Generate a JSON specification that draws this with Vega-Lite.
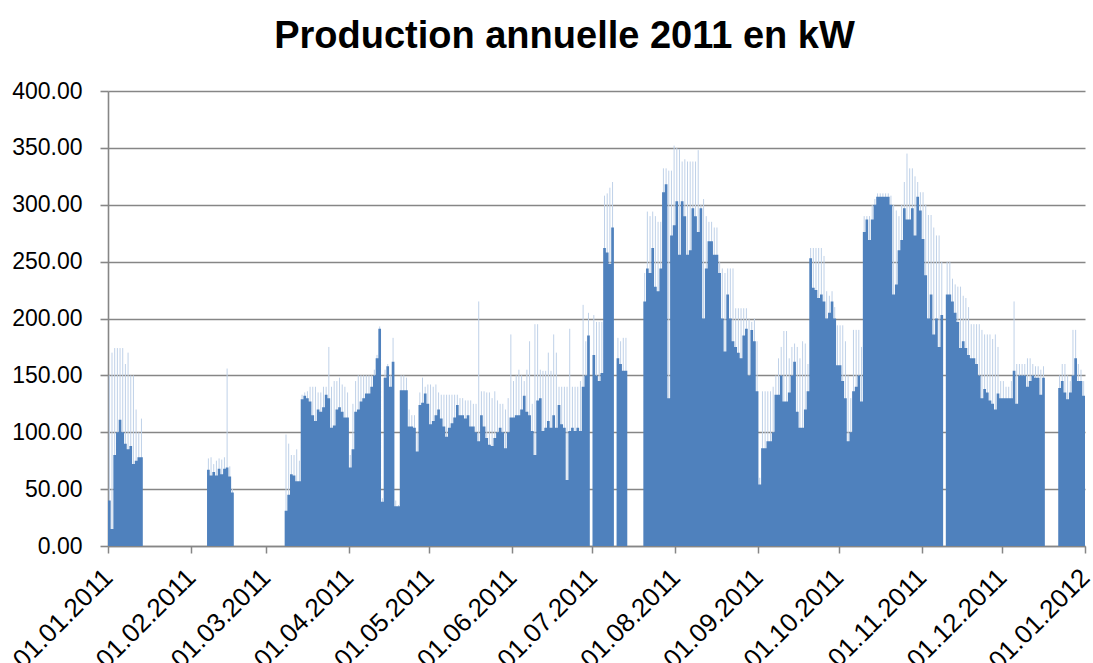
{
"$schema": "https://vega.github.io/schema/vega-lite/v6.json",
"width": 977, "height": 455,
"autosize": {"type": "none"},
"padding": {"left": 108, "top": 91, "right": 8, "bottom": 117},
"background": "white",
"config": {"view": {"stroke": null}, "font": "Liberation Sans"},
"title": {"text": "Production annuelle 2011 en kW", "fontSize": 38, "fontWeight": "bold", "font": "Liberation Sans", "color": "black", "anchor": "middle", "frame": "group", "dx": -32, "offset": 24},
"data": {"values": [
{"d":"2011-01-01","v":40,"p":150},{"d":"2011-01-02","v":15,"p":170},{"d":"2011-01-03","v":80,"p":174},{"d":"2011-01-04","v":100,"p":174},{"d":"2011-01-05","v":111,"p":174},{"d":"2011-01-06","v":100,"p":174},{"d":"2011-01-07","v":90,"p":160},{"d":"2011-01-08","v":85,"p":170},{"d":"2011-01-09","v":88,"p":150},{"d":"2011-01-10","v":72,"p":150},{"d":"2011-01-11","v":75,"p":120},{"d":"2011-01-12","v":78,"p":100},{"d":"2011-01-13","v":78,"p":112},{"d":"2011-01-14","v":0},
{"d":"2011-02-07","v":67,"p":77},{"d":"2011-02-08","v":62,"p":78},{"d":"2011-02-09","v":65,"p":72},{"d":"2011-02-10","v":62,"p":75},{"d":"2011-02-11","v":68,"p":77},{"d":"2011-02-12","v":63,"p":76},{"d":"2011-02-13","v":68,"p":78},{"d":"2011-02-14","v":69,"p":156},{"d":"2011-02-15","v":61,"p":70},{"d":"2011-02-16","v":47,"p":50},{"d":"2011-02-17","v":0},
{"d":"2011-03-08","v":31,"p":98},{"d":"2011-03-09","v":45,"p":90},{"d":"2011-03-10","v":63,"p":80},{"d":"2011-03-11","v":62,"p":80},{"d":"2011-03-12","v":57,"p":85},{"d":"2011-03-13","v":57,"p":75},{"d":"2011-03-14","v":129,"p":133},{"d":"2011-03-15","v":132,"p":135},{"d":"2011-03-16","v":130,"p":136},{"d":"2011-03-17","v":127,"p":140},{"d":"2011-03-18","v":115,"p":140},{"d":"2011-03-19","v":110,"p":140},{"d":"2011-03-20","v":120,"p":135},{"d":"2011-03-21","v":118,"p":135},{"d":"2011-03-22","v":122,"p":140},{"d":"2011-03-23","v":133,"p":140},{"d":"2011-03-24","v":130,"p":175},{"d":"2011-03-25","v":104,"p":140},{"d":"2011-03-26","v":106,"p":145},{"d":"2011-03-27","v":120,"p":145},{"d":"2011-03-28","v":122,"p":148},{"d":"2011-03-29","v":118,"p":142},{"d":"2011-03-30","v":113,"p":140},{"d":"2011-03-31","v":113,"p":135},
{"d":"2011-04-01","v":69,"p":80},{"d":"2011-04-02","v":85,"p":125},{"d":"2011-04-03","v":118,"p":145},{"d":"2011-04-04","v":120,"p":150},{"d":"2011-04-05","v":127,"p":150},{"d":"2011-04-06","v":130,"p":150},{"d":"2011-04-07","v":134,"p":150},{"d":"2011-04-08","v":134,"p":150},{"d":"2011-04-09","v":140,"p":150},{"d":"2011-04-10","v":150,"p":155},{"d":"2011-04-11","v":165,"p":168},{"d":"2011-04-12","v":191,"p":193},{"d":"2011-04-13","v":39,"p":42},{"d":"2011-04-14","v":148,"p":155},{"d":"2011-04-15","v":158,"p":160},{"d":"2011-04-16","v":140,"p":150},{"d":"2011-04-17","v":162,"p":183},{"d":"2011-04-18","v":35,"p":40},{"d":"2011-04-19","v":35,"p":36},{"d":"2011-04-20","v":137,"p":150},{"d":"2011-04-21","v":137,"p":150},{"d":"2011-04-22","v":137,"p":148},{"d":"2011-04-23","v":105,"p":120},{"d":"2011-04-24","v":105,"p":115},{"d":"2011-04-25","v":104,"p":115},{"d":"2011-04-26","v":83,"p":100},{"d":"2011-04-27","v":124,"p":135},{"d":"2011-04-28","v":126,"p":148},{"d":"2011-04-29","v":134,"p":140},{"d":"2011-04-30","v":125,"p":142},
{"d":"2011-05-01","v":107,"p":142},{"d":"2011-05-02","v":110,"p":140},{"d":"2011-05-03","v":115,"p":142},{"d":"2011-05-04","v":120,"p":135},{"d":"2011-05-05","v":112,"p":133},{"d":"2011-05-06","v":105,"p":133},{"d":"2011-05-07","v":96,"p":133},{"d":"2011-05-08","v":104,"p":133},{"d":"2011-05-09","v":108,"p":133},{"d":"2011-05-10","v":113,"p":133},{"d":"2011-05-11","v":124,"p":133},{"d":"2011-05-12","v":115,"p":130},{"d":"2011-05-13","v":115,"p":130},{"d":"2011-05-14","v":112,"p":128},{"d":"2011-05-15","v":115,"p":128},{"d":"2011-05-16","v":105,"p":128},{"d":"2011-05-17","v":105,"p":125},{"d":"2011-05-18","v":100,"p":125},{"d":"2011-05-19","v":92,"p":215},{"d":"2011-05-20","v":115,"p":136},{"d":"2011-05-21","v":105,"p":136},{"d":"2011-05-22","v":95,"p":135},{"d":"2011-05-23","v":89,"p":135},{"d":"2011-05-24","v":88,"p":130},{"d":"2011-05-25","v":95,"p":136},{"d":"2011-05-26","v":100,"p":128},{"d":"2011-05-27","v":104,"p":125},{"d":"2011-05-28","v":100,"p":125},{"d":"2011-05-29","v":86,"p":120},{"d":"2011-05-30","v":100,"p":130},{"d":"2011-05-31","v":113,"p":186},
{"d":"2011-06-01","v":113,"p":145},{"d":"2011-06-02","v":115,"p":150},{"d":"2011-06-03","v":115,"p":155},{"d":"2011-06-04","v":120,"p":150},{"d":"2011-06-05","v":132,"p":145},{"d":"2011-06-06","v":118,"p":155},{"d":"2011-06-07","v":115,"p":180},{"d":"2011-06-08","v":101,"p":125},{"d":"2011-06-09","v":80,"p":195},{"d":"2011-06-10","v":128,"p":195},{"d":"2011-06-11","v":130,"p":155},{"d":"2011-06-12","v":101,"p":154},{"d":"2011-06-13","v":104,"p":154},{"d":"2011-06-14","v":110,"p":170},{"d":"2011-06-15","v":104,"p":154},{"d":"2011-06-16","v":115,"p":186},{"d":"2011-06-17","v":104,"p":170},{"d":"2011-06-18","v":124,"p":140},{"d":"2011-06-19","v":107,"p":140},{"d":"2011-06-20","v":104,"p":140},{"d":"2011-06-21","v":58,"p":140},{"d":"2011-06-22","v":101,"p":191},{"d":"2011-06-23","v":104,"p":140},{"d":"2011-06-24","v":101,"p":140},{"d":"2011-06-25","v":104,"p":140},{"d":"2011-06-26","v":101,"p":145},{"d":"2011-06-27","v":140,"p":212},{"d":"2011-06-28","v":150,"p":180},{"d":"2011-06-29","v":185,"p":205},{"d":"2011-06-30","v":0},
{"d":"2011-07-01","v":168,"p":203},{"d":"2011-07-02","v":150,"p":197},{"d":"2011-07-03","v":145,"p":197},{"d":"2011-07-04","v":152,"p":197},{"d":"2011-07-05","v":262,"p":308},{"d":"2011-07-06","v":258,"p":310},{"d":"2011-07-07","v":248,"p":315},{"d":"2011-07-08","v":280,"p":320},{"d":"2011-07-09","v":0},{"d":"2011-07-10","v":165,"p":183},{"d":"2011-07-11","v":160,"p":180},{"d":"2011-07-12","v":154,"p":183},{"d":"2011-07-13","v":154,"p":183},{"d":"2011-07-14","v":0},{"d":"2011-07-20","v":215,"p":240},{"d":"2011-07-21","v":244,"p":294},{"d":"2011-07-22","v":240,"p":290},{"d":"2011-07-23","v":262,"p":294},{"d":"2011-07-24","v":228,"p":290},{"d":"2011-07-25","v":224,"p":285},{"d":"2011-07-26","v":244,"p":285},{"d":"2011-07-27","v":311,"p":332},{"d":"2011-07-28","v":318,"p":332},{"d":"2011-07-29","v":130,"p":330},{"d":"2011-07-30","v":273,"p":330},{"d":"2011-07-31","v":282,"p":352},
{"d":"2011-08-01","v":303,"p":350},{"d":"2011-08-02","v":256,"p":349},{"d":"2011-08-03","v":303,"p":338},{"d":"2011-08-04","v":290,"p":340},{"d":"2011-08-05","v":256,"p":338},{"d":"2011-08-06","v":260,"p":338},{"d":"2011-08-07","v":297,"p":338},{"d":"2011-08-08","v":290,"p":338},{"d":"2011-08-09","v":276,"p":348},{"d":"2011-08-10","v":297,"p":300},{"d":"2011-08-11","v":200,"p":305},{"d":"2011-08-12","v":244,"p":290},{"d":"2011-08-13","v":268,"p":285},{"d":"2011-08-14","v":268,"p":285},{"d":"2011-08-15","v":256,"p":280},{"d":"2011-08-16","v":256,"p":280},{"d":"2011-08-17","v":240,"p":250},{"d":"2011-08-18","v":200,"p":244},{"d":"2011-08-19","v":171,"p":240},{"d":"2011-08-20","v":221,"p":244},{"d":"2011-08-21","v":200,"p":244},{"d":"2011-08-22","v":180,"p":244},{"d":"2011-08-23","v":175,"p":209},{"d":"2011-08-24","v":170,"p":209},{"d":"2011-08-25","v":165,"p":209},{"d":"2011-08-26","v":185,"p":209},{"d":"2011-08-27","v":191,"p":209},{"d":"2011-08-28","v":150,"p":200},{"d":"2011-08-29","v":190,"p":197},{"d":"2011-08-30","v":180,"p":200},{"d":"2011-08-31","v":136,"p":180},
{"d":"2011-09-01","v":54,"p":60},{"d":"2011-09-02","v":86,"p":136},{"d":"2011-09-03","v":86,"p":136},{"d":"2011-09-04","v":92,"p":136},{"d":"2011-09-05","v":92,"p":136},{"d":"2011-09-06","v":100,"p":140},{"d":"2011-09-07","v":133,"p":150},{"d":"2011-09-08","v":133,"p":165},{"d":"2011-09-09","v":150,"p":175},{"d":"2011-09-10","v":127,"p":189},{"d":"2011-09-11","v":127,"p":189},{"d":"2011-09-12","v":135,"p":165},{"d":"2011-09-13","v":150,"p":175},{"d":"2011-09-14","v":162,"p":178},{"d":"2011-09-15","v":118,"p":175},{"d":"2011-09-16","v":104,"p":165},{"d":"2011-09-17","v":104,"p":180},{"d":"2011-09-18","v":120,"p":178},{"d":"2011-09-19","v":136,"p":160},{"d":"2011-09-20","v":253,"p":262},{"d":"2011-09-21","v":227,"p":262},{"d":"2011-09-22","v":225,"p":262},{"d":"2011-09-23","v":218,"p":262},{"d":"2011-09-24","v":221,"p":262},{"d":"2011-09-25","v":215,"p":255},{"d":"2011-09-26","v":200,"p":224},{"d":"2011-09-27","v":205,"p":220},{"d":"2011-09-28","v":215,"p":224},{"d":"2011-09-29","v":200,"p":210},{"d":"2011-09-30","v":159,"p":194},
{"d":"2011-10-01","v":159,"p":194},{"d":"2011-10-02","v":145,"p":194},{"d":"2011-10-03","v":130,"p":180},{"d":"2011-10-04","v":92,"p":150},{"d":"2011-10-05","v":100,"p":130},{"d":"2011-10-06","v":136,"p":190},{"d":"2011-10-07","v":140,"p":190},{"d":"2011-10-08","v":150,"p":190},{"d":"2011-10-09","v":127,"p":175},{"d":"2011-10-10","v":276,"p":290},{"d":"2011-10-11","v":287,"p":290},{"d":"2011-10-12","v":269,"p":290},{"d":"2011-10-13","v":287,"p":300},{"d":"2011-10-14","v":300,"p":305},{"d":"2011-10-15","v":307,"p":310},{"d":"2011-10-16","v":307,"p":310},{"d":"2011-10-17","v":307,"p":310},{"d":"2011-10-18","v":307,"p":310},{"d":"2011-10-19","v":307,"p":310},{"d":"2011-10-20","v":300,"p":308},{"d":"2011-10-21","v":221,"p":300},{"d":"2011-10-22","v":230,"p":295},{"d":"2011-10-23","v":260,"p":290},{"d":"2011-10-24","v":269,"p":300},{"d":"2011-10-25","v":297,"p":320},{"d":"2011-10-26","v":287,"p":345},{"d":"2011-10-27","v":287,"p":332},{"d":"2011-10-28","v":297,"p":332},{"d":"2011-10-29","v":273,"p":325},{"d":"2011-10-30","v":307,"p":320},{"d":"2011-10-31","v":295,"p":311},
{"d":"2011-11-01","v":270,"p":311},{"d":"2011-11-02","v":238,"p":300},{"d":"2011-11-03","v":200,"p":291},{"d":"2011-11-04","v":221,"p":291},{"d":"2011-11-05","v":186,"p":280},{"d":"2011-11-06","v":200,"p":273},{"d":"2011-11-07","v":175,"p":273},{"d":"2011-11-08","v":203,"p":250},{"d":"2011-11-09","v":0},{"d":"2011-11-10","v":221,"p":250},{"d":"2011-11-11","v":221,"p":250},{"d":"2011-11-12","v":215,"p":235},{"d":"2011-11-13","v":205,"p":230},{"d":"2011-11-14","v":197,"p":228},{"d":"2011-11-15","v":174,"p":228},{"d":"2011-11-16","v":180,"p":220},{"d":"2011-11-17","v":174,"p":218},{"d":"2011-11-18","v":168,"p":210},{"d":"2011-11-19","v":165,"p":195},{"d":"2011-11-20","v":165,"p":195},{"d":"2011-11-21","v":160,"p":195},{"d":"2011-11-22","v":150,"p":195},{"d":"2011-11-23","v":130,"p":190},{"d":"2011-11-24","v":138,"p":186},{"d":"2011-11-25","v":135,"p":186},{"d":"2011-11-26","v":128,"p":186},{"d":"2011-11-27","v":125,"p":182},{"d":"2011-11-28","v":120,"p":186},{"d":"2011-11-29","v":134,"p":175},{"d":"2011-11-30","v":130,"p":145},
{"d":"2011-12-01","v":130,"p":145},{"d":"2011-12-02","v":130,"p":140},{"d":"2011-12-03","v":130,"p":140},{"d":"2011-12-04","v":130,"p":145},{"d":"2011-12-05","v":154,"p":215},{"d":"2011-12-06","v":125,"p":160},{"d":"2011-12-07","v":150,"p":160},{"d":"2011-12-08","v":150,"p":160},{"d":"2011-12-09","v":150,"p":160},{"d":"2011-12-10","v":140,"p":165},{"d":"2011-12-11","v":145,"p":165},{"d":"2011-12-12","v":150,"p":160},{"d":"2011-12-13","v":148,"p":158},{"d":"2011-12-14","v":148,"p":158},{"d":"2011-12-15","v":133,"p":155},{"d":"2011-12-16","v":148,"p":158},{"d":"2011-12-17","v":0},{"d":"2011-12-22","v":139,"p":150},{"d":"2011-12-23","v":145,"p":160},{"d":"2011-12-24","v":135,"p":160},{"d":"2011-12-25","v":129,"p":150},{"d":"2011-12-26","v":135,"p":145},{"d":"2011-12-27","v":150,"p":190},{"d":"2011-12-28","v":165,"p":190},{"d":"2011-12-29","v":145,"p":160},{"d":"2011-12-30","v":145,"p":155},{"d":"2011-12-31","v":132,"p":145},{"d":"2012-01-01","v":0}
]},
"layer": [
{"mark": {"type": "rule", "color": "#bfd1e8", "strokeWidth": 1},
 "encoding": {
  "x": {"field": "d", "type": "temporal", "timeUnit": "utcyearmonthdate", "bandPosition": 0.5,
   "scale": {"type": "utc", "nice": false, "domain": [{"year": 2011, "month": 1, "date": 1, "utc": true}, {"year": 2012, "month": 1, "date": 1, "utc": true}]},
   "axis": {"title": null, "grid": false, "labelExpr": "utcFormat(datum.value, '%d.%m.%Y')",
    "values": [{"year":2011,"month":1,"date":1,"utc":true},{"year":2011,"month":2,"date":1,"utc":true},{"year":2011,"month":3,"date":1,"utc":true},{"year":2011,"month":4,"date":1,"utc":true},{"year":2011,"month":5,"date":1,"utc":true},{"year":2011,"month":6,"date":1,"utc":true},{"year":2011,"month":7,"date":1,"utc":true},{"year":2011,"month":8,"date":1,"utc":true},{"year":2011,"month":9,"date":1,"utc":true},{"year":2011,"month":10,"date":1,"utc":true},{"year":2011,"month":11,"date":1,"utc":true},{"year":2011,"month":12,"date":1,"utc":true},{"year":2012,"month":1,"date":1,"utc":true}],
    "labelAngle": -45, "labelAlign": "right", "labelBaseline": "middle", "labelFontSize": 26, "labelFont": "Liberation Sans", "labelColor": "black",
    "labelPadding": 20, "labelFlush": false, "labelOverlap": false, "labelBound": false,
    "domainColor": "#868686", "domainWidth": 1.5, "tickColor": "#868686", "tickWidth": 1.5, "tickSize": 7}},
  "y": {"field": "p", "type": "quantitative",
   "scale": {"domain": [0, 400], "nice": false},
   "axis": {"title": null, "values": [0,50,100,150,200,250,300,350,400], "format": ".2f",
    "grid": true, "gridColor": "#868686", "gridWidth": 1.6, "domainColor": "#868686", "domainWidth": 1.6,
    "tickColor": "#868686", "tickWidth": 1.6, "tickSize": 8, "labelFontSize": 23, "labelFont": "Liberation Sans",
    "labelColor": "black", "labelPadding": 18, "labelFlush": false, "labelOverlap": false}},
  "y2": {"datum": 0}}},
{"mark": {"type": "area", "color": "#4f81bd", "interpolate": "step-after", "opacity": 1},
 "encoding": {
  "x": {"field": "d", "type": "temporal"},
  "y": {"field": "v", "type": "quantitative"}}}
]
}
